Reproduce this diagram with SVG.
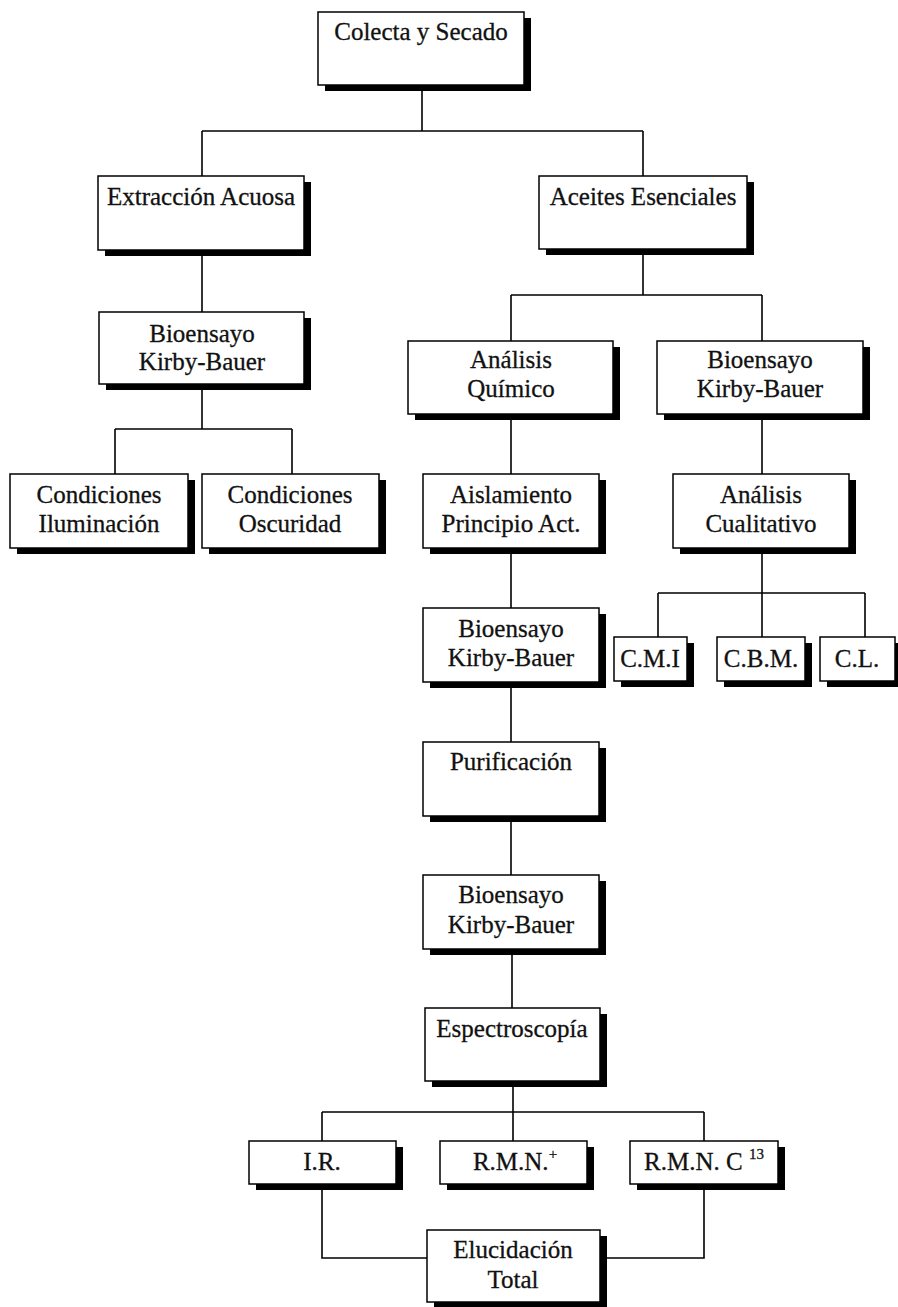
<svg xmlns="http://www.w3.org/2000/svg" width="898" height="1307" viewBox="0 0 898 1307">
<style>
.bg{fill:#fff}
.sh{fill:#000}
.box{fill:#fff;stroke:#000;stroke-width:1.5}
.t{font-family:"Liberation Serif","Times New Roman",serif;font-size:25px;text-anchor:middle;fill:#111;stroke:#111;stroke-width:0.3}
.sup{font-size:15px}
.c{fill:none;stroke:#000;stroke-width:1.6}
</style>
<rect class="bg" x="0" y="0" width="898" height="1307"/>
<g id="connectors">
<path class="c" d="M422 85V131M202 131H643M202 131V176M643 131V176"/>
<path class="c" d="M643 249V295M511 295H762M511 295V341M762 295V341"/>
<path class="c" d="M202 250V312M202 384V429M115 429H292M115 429V474M292 429V474"/>
<path class="c" d="M511 414V474M762 414V474"/>
<path class="c" d="M511 548V608M511 682V742M511 816V875M512 949V1008"/>
<path class="c" d="M762 548V593M658 593H865M658 593V637M762 593V637M865 593V637"/>
<path class="c" d="M513 1081V1112M322 1112H704M322 1112V1141M513 1112V1141M704 1112V1141"/>
<path class="c" d="M322 1184V1258H427M704 1184V1258H600"/>
</g>
<g id="n-colecta"><rect class="sh" x="325" y="18" width="206" height="73"/><rect class="box" x="318" y="12" width="206" height="73"/><text class="t" x="421" y="40">Colecta y Secado</text></g>
<g id="n-extraccion"><rect class="sh" x="105" y="182" width="206" height="74"/><rect class="box" x="98" y="176" width="206" height="74"/><text class="t" x="201" y="205">Extracción Acuosa</text></g>
<g id="n-aceites"><rect class="sh" x="546" y="182" width="208" height="73"/><rect class="box" x="539" y="176" width="208" height="73"/><text class="t" x="643" y="205">Aceites Esenciales</text></g>
<g id="n-bio-left"><rect class="sh" x="106" y="318" width="205" height="72"/><rect class="box" x="99" y="312" width="205" height="72"/><text class="t" x="202" y="342">Bioensayo</text><text class="t" x="202" y="370">Kirby-Bauer</text></g>
<g id="n-cond-ilum"><rect class="sh" x="17" y="480" width="178" height="74"/><rect class="box" x="10" y="474" width="178" height="74"/><text class="t" x="99" y="503">Condiciones</text><text class="t" x="99" y="532">Iluminación</text></g>
<g id="n-cond-osc"><rect class="sh" x="209" y="480" width="177" height="74"/><rect class="box" x="202" y="474" width="177" height="74"/><text class="t" x="290" y="503">Condiciones</text><text class="t" x="290" y="532">Oscuridad</text></g>
<g id="n-analisis-quimico"><rect class="sh" x="415" y="347" width="205" height="73"/><rect class="box" x="408" y="341" width="205" height="73"/><text class="t" x="511" y="368">Análisis</text><text class="t" x="511" y="397">Químico</text></g>
<g id="n-bio-right"><rect class="sh" x="664" y="347" width="206" height="73"/><rect class="box" x="657" y="341" width="206" height="73"/><text class="t" x="760" y="368">Bioensayo</text><text class="t" x="760" y="397">Kirby-Bauer</text></g>
<g id="n-aislamiento"><rect class="sh" x="430" y="480" width="176" height="74"/><rect class="box" x="423" y="474" width="176" height="74"/><text class="t" x="511" y="503">Aislamiento</text><text class="t" x="511" y="532">Principio Act.</text></g>
<g id="n-cualitativo"><rect class="sh" x="680" y="480" width="176" height="74"/><rect class="box" x="673" y="474" width="176" height="74"/><text class="t" x="761" y="503">Análisis</text><text class="t" x="761" y="532">Cualitativo</text></g>
<g id="n-bio-2"><rect class="sh" x="430" y="614" width="176" height="74"/><rect class="box" x="423" y="608" width="176" height="74"/><text class="t" x="511" y="637">Bioensayo</text><text class="t" x="511" y="666">Kirby-Bauer</text></g>
<g id="n-cmi"><rect class="sh" x="621" y="643" width="73" height="44"/><rect class="box" x="614" y="637" width="73" height="44"/><text class="t" x="650" y="667">C.M.I</text></g>
<g id="n-cbm"><rect class="sh" x="724" y="643" width="88" height="44"/><rect class="box" x="717" y="637" width="88" height="44"/><text class="t" x="761" y="667">C.B.M.</text></g>
<g id="n-cl"><rect class="sh" x="827" y="643" width="75" height="44"/><rect class="box" x="820" y="637" width="75" height="44"/><text class="t" x="857" y="667">C.L.</text></g>
<g id="n-purificacion"><rect class="sh" x="430" y="748" width="176" height="74"/><rect class="box" x="423" y="742" width="176" height="74"/><text class="t" x="511" y="770">Purificación</text></g>
<g id="n-bio-3"><rect class="sh" x="430" y="881" width="176" height="74"/><rect class="box" x="423" y="875" width="176" height="74"/><text class="t" x="511" y="903">Bioensayo</text><text class="t" x="511" y="933">Kirby-Bauer</text></g>
<g id="n-espectroscopia"><rect class="sh" x="432" y="1014" width="175" height="73"/><rect class="box" x="425" y="1008" width="175" height="73"/><text class="t" x="512" y="1037">Espectroscopía</text></g>
<g id="n-ir"><rect class="sh" x="256" y="1147" width="147" height="43"/><rect class="box" x="249" y="1141" width="147" height="43"/><text class="t" x="322" y="1170">I.R.</text></g>
<g id="n-rmn-h"><rect class="sh" x="447" y="1147" width="147" height="43"/><rect class="box" x="440" y="1141" width="147" height="43"/><text class="t" x="515" y="1170">R.M.N.<tspan class="sup" dy="-11">+</tspan></text></g>
<g id="n-rmn-c13"><rect class="sh" x="637" y="1147" width="148" height="43"/><rect class="box" x="630" y="1141" width="148" height="43"/><text class="t" x="704" y="1170">R.M.N. C <tspan class="sup" dy="-11">13</tspan></text></g>
<g id="n-elucidacion"><rect class="sh" x="434" y="1236" width="173" height="72"/><rect class="box" x="427" y="1230" width="173" height="72"/><text class="t" x="513" y="1258">Elucidación</text><text class="t" x="513" y="1288">Total</text></g>
</svg>
